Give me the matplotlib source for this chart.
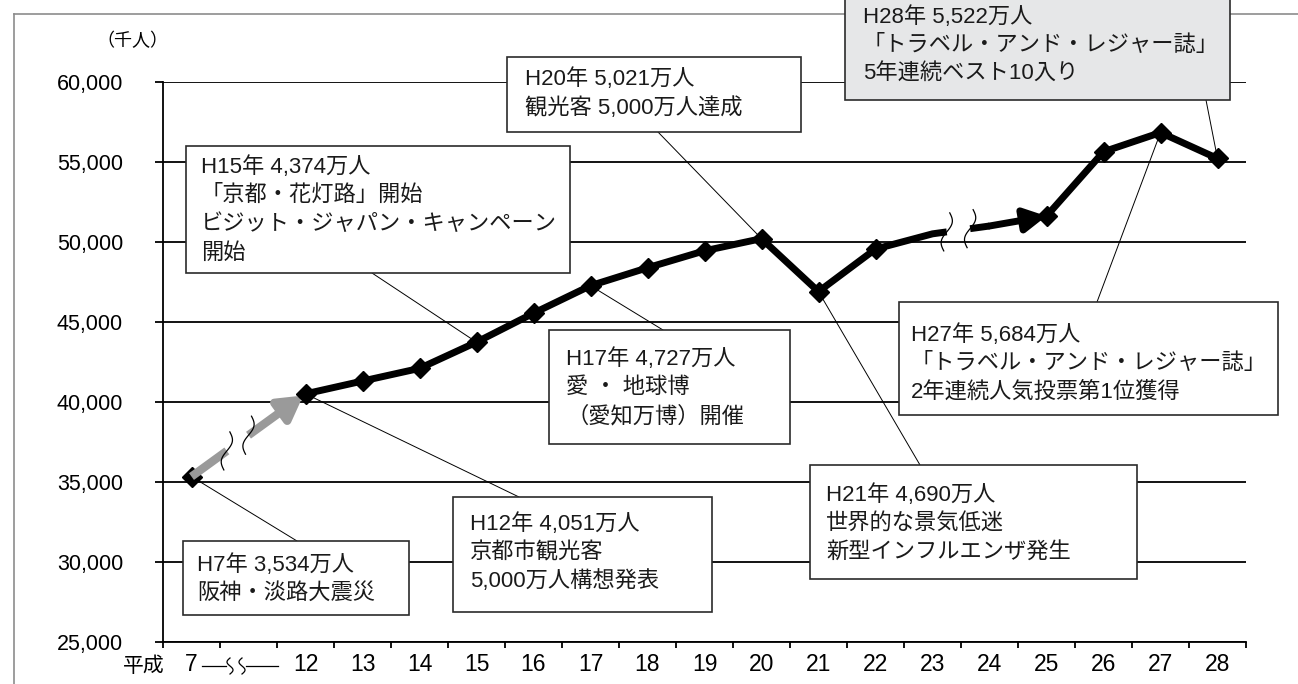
import numpy as np
import matplotlib.pyplot as plt
from matplotlib.patches import Rectangle, ConnectionPatch
from matplotlib.ticker import NullFormatter
from matplotlib import transforms

plt.rcParams['font.family'] = ['Liberation Sans', 'Noto Sans CJK JP', 'DejaVu Sans']

W, H = 1298, 684  # output size in pixels (dpi 100)

# visitors to Kyoto city (thousand people), fiscal year Heisei
years = [7, 12, 13, 14, 15, 16, 17, 18, 19, 20, 21, 22, 23, 24, 25, 26, 27, 28]
visitors = [35340, 40510, 41310, 42100, 43740, 45550, 47270, 48390, 49450,
            50210, 46900, 49560, 50510, 51000, 51620, 55640, 56840, 55220]
# position on the x axis; slot 1 is the skipped span between H7 and H12
slots = [0] + list(range(2, 19))
marked_years = [7, 12, 13, 14, 15, 16, 17, 18, 19, 20, 21, 22, 25, 26, 27, 28]
yticks = [25000, 30000, 35000, 40000, 45000, 50000, 55000, 60000]

note_years = [7, 12, 15, 17, 20, 21, 27, 28]
note_texts = [
    ["H7年 3,534万人", "阪神・淡路大震災"],
    ["H12年 4,051万人", "京都市観光客", "5,000万人構想発表"],
    ["H15年 4,374万人", "「京都・花灯路」開始", "ビジット・ジャパン・キャンペーン", "開始"],
    ["H17年 4,727万人", "愛 ・ 地球博", "（愛知万博）開催"],
    ["H20年 5,021万人", "観光客 5,000万人達成"],
    ["H21年 4,690万人", "世界的な景気低迷", "新型インフルエンザ発生"],
    ["H27年 5,684万人", "「トラベル・アンド・レジャー誌」", "2年連続人気投票第1位獲得"],
    ["H28年 5,522万人", "「トラベル・アンド・レジャー誌」", "5年連続ベスト10入り"],
]

# layout of the note boxes in reference pixels: (left, top, right, bottom)
note_boxes = [(183, 541, 409, 615), (453, 497, 712, 612), (186, 146, 570, 273),
              (549, 330, 790, 444), (507, 57, 801, 132), (810, 465, 1137, 579),
              (899, 302, 1278, 415), (845, -6, 1230, 100)]
note_text_at = [(197, 565), (470, 524), (201, 167), (566, 359), (525, 79),
                (826, 495), (911, 335), (863, 17)]
note_anchor = [(297, 541), (519, 497), (372, 273), (663, 330), (658, 132),
               (920, 465), (1097, 302), (1206, 100)]
note_fill = ['white'] * 7 + ['#e6e7e8']
note_size = 16
line_gap = 28.7


def fx(x):
    return x / W


def fy(y):
    return 1 - y / H


fig = plt.figure(figsize=(W / 100, H / 100), dpi=100)
ax = fig.add_axes([fx(163), fy(642), (1246 - 163) / W, (642 - 82) / H])
ax.patch.set_visible(False)

val = dict(zip(years, visitors))
pos = dict(zip(years, slots))


def pt(y):
    return pos[y], val[y]


def between(y0, y1, f):
    return (pos[y0] + f * (pos[y1] - pos[y0]), val[y0] + f * (val[y1] - val[y0]))


def squiggle(x, y, h=0.38, a=0.04):
    t = np.linspace(-1, 1, 60)
    tr = fig.dpi_scale_trans + transforms.ScaledTranslation(x, y, ax.transData)
    ax.plot(a * np.sin(np.pi * t) + 0.03 * t, t * h / 2, transform=tr,
            color='k', lw=0.9, zorder=7, clip_on=False)


# grid
ax.set_axisbelow(True)
ax.grid(axis='y', color='k', lw=1.3)
ax.grid(axis='x', visible=False)

# gray arrow H7 -> H12 with break
gray = '#9a9a9a'
g1 = between(7, 12, 0.31)
g2 = between(7, 12, 0.50)
ax.plot([pos[7], g1[0]], [val[7], g1[1]], color=gray, lw=6,
        solid_capstyle='butt', zorder=5)
ax.annotate('', xy=pt(12), xytext=g2,
            arrowprops=dict(arrowstyle='-|>,head_length=1.4,head_width=0.8',
                            color=gray, lw=6, shrinkA=0, shrinkB=2,
                            capstyle='butt'), zorder=3.5)
squiggle(*g1)
squiggle(*g2)

# black line H12 .. H23 -> break -> H24 -> H25 .. H28
b1 = between(23, 24, 0.25)
b2 = between(23, 24, 0.66)
seg = years[1:13]
ax.plot([pos[y] for y in seg] + [b1[0]], [val[y] for y in seg] + [b1[1]],
        color='k', lw=5, solid_joinstyle='miter', solid_capstyle='butt', zorder=3)
ax.plot([b2[0], pos[24]], [b2[1], val[24]], color='k', lw=5,
        solid_capstyle='butt', zorder=3)
ax.annotate('', xy=pt(25), xytext=pt(24),
            arrowprops=dict(arrowstyle='-|>,head_length=1.3,head_width=0.7',
                            color='k', lw=5, shrinkA=0, shrinkB=0), zorder=3)
seg = years[14:]
ax.plot([pos[y] for y in seg], [val[y] for y in seg], color='k', lw=5,
        solid_joinstyle='miter', zorder=3)
squiggle(*b1)
squiggle(*b2)

ax.plot([pos[y] for y in marked_years], [val[y] for y in marked_years],
        ls='none', marker='D', ms=10.5, color='k', zorder=4)

# note boxes and leaders
for yr, lines, box, tpos, anc, fill in zip(note_years, note_texts, note_boxes,
                                           note_text_at, note_anchor, note_fill):
    l, t, r, b = box
    ax.add_patch(Rectangle((fx(l), fy(b)), (r - l) / W, (b - t) / H,
                           transform=fig.transFigure, facecolor=fill,
                           edgecolor='#2b2b2b', lw=1.2, zorder=2, clip_on=False))
    for i, s in enumerate(lines):
        ax.text(fx(tpos[0]), fy(tpos[1] + i * line_gap), s, transform=fig.transFigure,
                fontsize=note_size, ha='left', va='center', color='#1a1a1a', zorder=6)
    con = ConnectionPatch(xyA=(fx(anc[0]), fy(anc[1])), coordsA='figure fraction',
                          xyB=pt(yr), coordsB='data', color='k', lw=0.7, zorder=1.5)
    ax.add_artist(con)

# axes
for s in ['top', 'right']:
    ax.spines[s].set_visible(False)
for s in ['left', 'bottom']:
    ax.spines[s].set_linewidth(1.3)

ax.set_yticks(yticks, labels=[f'{v:,}' for v in yticks])
ax.tick_params(axis='y', direction='out', length=5.8, width=1.3, pad=23,
               labelsize=15.5, colors='k')
ax.set_xticks(np.arange(-0.5, 19, 1.0))
ax.xaxis.set_major_formatter(NullFormatter())
ax.tick_params(axis='x', which='major', direction='out', length=4.3, width=1.3)
ax.set_xticks(slots, labels=[str(y) for y in years], minor=True)
ax.tick_params(axis='x', which='minor', length=0, pad=8, labelsize=16.5)
for lbl in ax.get_xticklabels(minor=True):
    lbl.set_fontfamily(['Liberation Sans Narrow', 'Liberation Sans'])

ax.set_xlim(-0.5, 18.5)
ax.set_ylim(25000, 60000)

# skipped span mark under the axis between 7 and 12
yb = 666
ax.plot([fx(202), fx(226)], [fy(yb), fy(yb)], transform=fig.transFigure,
        color='k', lw=0.9, clip_on=False)
ax.plot([fx(246), fx(278)], [fy(yb), fy(yb)], transform=fig.transFigure,
        color='k', lw=0.9, clip_on=False)
t = np.linspace(-1, 1, 40)
for xc in (230, 242):
    ax.plot(fx(xc + 3 * np.sin(np.pi * t)), fy(yb + 8 * t), transform=fig.transFigure,
            color='k', lw=0.9, clip_on=False)

fig.text(fx(165), fy(666), '平成', fontsize=15, ha='right', va='center')
fig.text(fx(132), fy(41), '（千人）', fontsize=13, ha='center', va='center')

# outer frame
frame = '#8c8c8c'
fig.add_artist(plt.Line2D([fx(14), fx(14)], [fy(14), 0], color=frame, lw=1.2,
                          transform=fig.transFigure, zorder=-1))
fig.add_artist(plt.Line2D([fx(14), 1], [fy(14), fy(14)], color=frame, lw=1.2,
                          transform=fig.transFigure, zorder=-1))

fig.savefig('out.png', dpi=100)
